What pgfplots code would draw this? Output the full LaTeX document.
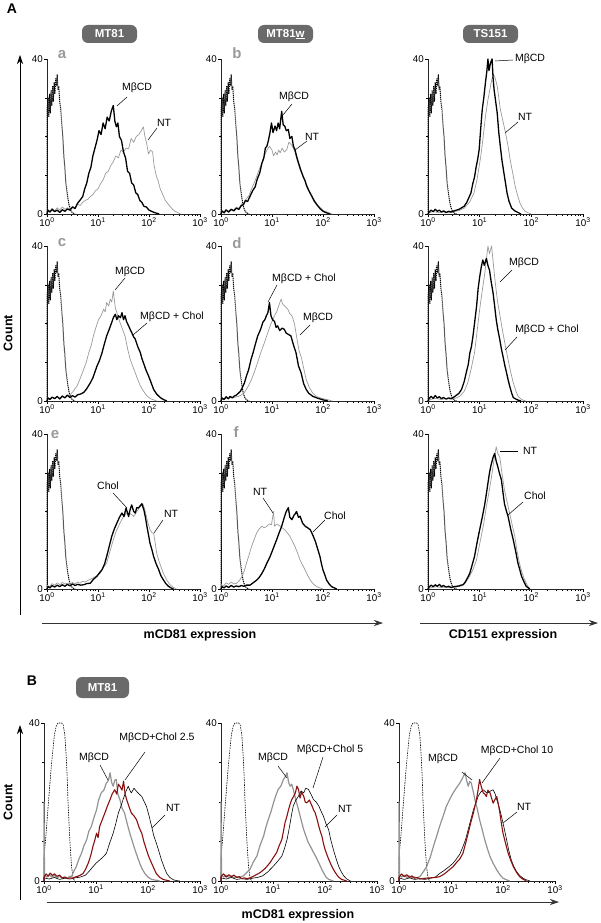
\documentclass[border=0pt]{standalone}
\usepackage{fontspec}
\setmainfont{Liberation Sans}
\usepackage{pgfplots}
\usepackage{pgfplotstable}
\pgfplotsset{compat=1.18}
\usetikzlibrary{arrows.meta}
\definecolor{lgray}{HTML}{9A9A9A}
\definecolor{mgray}{HTML}{939393}
\definecolor{boxgray}{HTML}{6A6A6A}
\definecolor{dred}{HTML}{8A1010}

\pgfplotstableread[row sep=\\]{x y\\ 0 0\\ 0 27\\ 0.02 30\\ 0.035 25\\ 0.05 31\\ 0.065 26\\ 0.08 32\\ 0.095 28\\ 0.11 33\\ 0.125 29\\ 0.14 34\\ 0.155 31\\ 0.17 35\\ 0.185 33\\ 0.2 36\\ 0.215 32\\ 0.23 33\\ 0.25 29\\ 0.27 27\\ 0.29 23\\ 0.31 20\\ 0.33 15\\ 0.35 12\\ 0.37 8\\ 0.39 6\\ 0.41 4\\ 0.43 2.5\\ 0.45 1.5\\ 0.47 0.8\\ 0.5 0.3\\ 0.55 0\\}\dotA
\pgfplotstableread[row sep=\\]{x y\\ 0 0\\ 0 6\\ 0.04 12\\ 0.08 19\\ 0.11 24\\ 0.14 29\\ 0.17 33\\ 0.2 37\\ 0.24 39.5\\ 0.27 40\\ 0.3 40\\ 0.34 40\\ 0.37 39.5\\ 0.4 37\\ 0.42 33\\ 0.43 30.8\\ 0.45 25\\ 0.46 20.6\\ 0.48 15\\ 0.49 12\\ 0.51 7.5\\ 0.53 3.6\\ 0.56 0.7\\ 0.59 0\\}\dotB

\pgfplotsset{
  hist/.style={scale only axis, anchor=south west, xmin=0, xmax=3, ymin=0, ymax=40,
    axis lines*=left, axis line style={black!85, line width=0.6pt},
    xtick={0,1,2,3},
    xticklabels={10\textsuperscript{0},10\textsuperscript{1},10\textsuperscript{2},10\textsuperscript{3}},
    ytick={0,40}, yticklabels={0,40}, minor ytick={10,20,30},
    minor xtick={0.301,0.477,0.602,0.699,0.778,0.845,0.903,0.954,1.301,1.477,1.602,1.699,1.778,1.845,1.903,1.954,2.301,2.477,2.602,2.699,2.778,2.845,2.903,2.954},
    tick align=outside, major tick length=3pt, minor tick length=1.8pt,
    tick style={black, line width=0.45pt},
    tick label style={font=\fontsize{9.8}{10}\selectfont, inner sep=1pt},
    clip=false},
  histA/.style={hist, width=153pt, height=155pt},
  histT/.style={hist, width=155pt, height=155pt},
  histB/.style={hist, width=156pt, height=158pt},
  dotted A/.style={black, line width=1.0pt, dash pattern=on 1.2pt off 0.8pt},
  dotted B/.style={black, line width=0.6pt, dash pattern=on 1.5pt off 1pt},
  blk/.style={black, line width=1.3pt, line join=round},
  gry/.style={lgray, line width=0.7pt, line join=round},
  gryB/.style={mgray, line width=1.2pt, line join=round},
  redB/.style={dred, line width=1.1pt, line join=round},
  blkB/.style={black, line width=0.6pt, line join=round},
}

\begin{document}
\begin{tikzpicture}
\path[use as bounding box] (0,0) rectangle (600pt,-923pt);

% ---------- Row 1 ----------
\begin{axis}[histA, at={(47pt,-214pt)}]
\addplot[dotted A] table {\dotA};
\addplot[gry] coordinates {(0,0) (0,1) (0.05,0.5) (0.1,1.5) (0.15,0.8) (0.2,1.6) (0.25,1) (0.3,1.8) (0.35,1.2) (0.4,1.6) (0.45,1.3) (0.5,2) (0.55,1.6) (0.6,2.5) (0.65,2.2) (0.7,3) (0.75,3.5) (0.8,3.8) (0.85,4.5) (0.9,5) (0.95,6) (1.0,6.5) (1.05,7.8) (1.1,8.8) (1.15,10.5) (1.2,11) (1.25,12.5) (1.3,13.5) (1.35,15) (1.4,14.5) (1.45,16.5) (1.5,16) (1.55,17) (1.6,16.8) (1.65,19.5) (1.7,18.5) (1.75,20) (1.8,20.5) (1.85,21.5) (1.89,22.5) (1.92,20) (1.95,18.5) (1.99,15.5) (2.03,16.5) (2.07,16) (2.1,12.5) (2.14,10) (2.18,8.5) (2.22,6.5) (2.27,5) (2.32,3.5) (2.38,2.5) (2.44,1.5) (2.5,0.8) (2.56,0.4) (2.62,0)};
\addplot[blk] coordinates {(0,0) (0.02,1) (0.06,0.5) (0.1,1.2) (0.15,0.6) (0.2,1) (0.25,0.4) (0.3,1.1) (0.35,0.7) (0.4,1.3) (0.45,1) (0.5,1.8) (0.55,1.4) (0.6,2.8) (0.65,3.6) (0.7,4.5) (0.74,6.5) (0.78,8) (0.82,10.5) (0.86,12) (0.9,15) (0.94,17) (0.98,19) (1.02,21.5) (1.06,20.5) (1.1,23.5) (1.14,22) (1.18,25) (1.22,24) (1.26,26.5) (1.3,28) (1.33,24) (1.36,22.5) (1.39,23.5) (1.42,20) (1.46,19) (1.5,16) (1.54,14.5) (1.58,11) (1.62,10.5) (1.66,8) (1.7,7.5) (1.74,5.5) (1.78,5) (1.82,3.5) (1.86,3) (1.9,2) (1.95,1.8) (2.0,1) (2.05,0.7) (2.1,0.4) (2.15,0.2) (2.2,0)};
\end{axis}

\begin{axis}[histA, at={(221pt,-214pt)}]
\addplot[dotted A] table {\dotA};
\addplot[gry] coordinates {(0,0) (0,0.8) (0.05,0.5) (0.1,1.2) (0.15,0.7) (0.2,1.3) (0.25,1) (0.3,1.8) (0.35,1.5) (0.4,2.5) (0.45,3) (0.5,4) (0.55,4.8) (0.6,6.5) (0.65,8) (0.7,9.7) (0.75,11.5) (0.8,13.2) (0.85,15) (0.9,16.5) (0.95,17.5) (1.0,16.5) (1.03,15) (1.07,16) (1.1,15.2) (1.13,16.5) (1.16,15.8) (1.2,17) (1.24,16) (1.29,16.6) (1.33,18.5) (1.37,18) (1.4,17.5) (1.45,16) (1.5,13.5) (1.55,11.5) (1.6,10) (1.65,8.5) (1.7,7) (1.75,5.5) (1.8,4.2) (1.85,3.2) (1.9,2.2) (1.96,1.5) (2.02,0.8) (2.1,0.4) (2.18,0)};
\addplot[blk] coordinates {(0,0) (0.02,0.8) (0.06,0.3) (0.1,1) (0.15,0.5) (0.2,1.2) (0.25,0.8) (0.3,1.5) (0.35,1.2) (0.4,2.2) (0.44,2.4) (0.48,3.5) (0.52,3.2) (0.57,4.6) (0.62,6) (0.67,7) (0.71,9) (0.76,10.6) (0.8,13) (0.84,14.5) (0.87,17) (0.9,17.5) (0.93,19) (0.96,21) (0.99,23.5) (1.02,21) (1.06,22.7) (1.09,21.5) (1.12,23.5) (1.15,22) (1.19,26.5) (1.22,23) (1.25,22.7) (1.28,21.5) (1.32,21.8) (1.35,19.5) (1.39,20) (1.42,17.5) (1.45,16.6) (1.49,14.5) (1.52,13.2) (1.56,11.5) (1.61,9.7) (1.65,8.5) (1.68,7.2) (1.73,5.8) (1.78,4.6) (1.83,3.3) (1.88,2.4) (1.94,1.4) (2.0,0.7) (2.07,0.3) (2.14,0)};
\end{axis}

\begin{axis}[histT, at={(428pt,-214pt)}]
\addplot[dotted A] table {\dotA};
\addplot[gry] coordinates {(0,0) (0.02,0.3) (0.1,0.6) (0.2,0.4) (0.3,0.5) (0.4,0.3) (0.5,0.6) (0.6,0.9) (0.7,1.5) (0.8,3) (0.89,5.4) (0.95,9) (1.02,14.8) (1.06,19) (1.11,25) (1.16,29.5) (1.21,33) (1.24,35) (1.27,36) (1.3,35) (1.34,33) (1.37,30) (1.4,27) (1.45,24) (1.5,21) (1.55,17.5) (1.59,14) (1.64,10.5) (1.69,7) (1.74,4.5) (1.78,2.8) (1.83,1.5) (1.88,0.7) (1.94,0.3) (2.0,0)};
\addplot[blk] coordinates {(0,0) (0.02,0.5) (0.06,1) (0.1,0.6) (0.14,1.2) (0.18,0.7) (0.22,1) (0.26,0.5) (0.3,0.8) (0.35,0.4) (0.4,0.7) (0.45,0.5) (0.5,0.8) (0.55,1) (0.6,1.2) (0.65,1.6) (0.7,2) (0.75,3) (0.8,4.5) (0.83,5.4) (0.87,8) (0.9,9.5) (0.93,12) (0.96,14) (0.99,16.6) (1.02,22) (1.05,27) (1.08,30) (1.11,33.7) (1.14,37) (1.16,40) (1.18,37) (1.21,39) (1.24,40) (1.26,35) (1.28,32) (1.31,29) (1.34,26) (1.37,21) (1.4,17.4) (1.43,14) (1.47,10.5) (1.5,8) (1.53,5.4) (1.57,3.2) (1.62,1.5) (1.68,0.8) (1.74,0.4) (1.8,0)};
\end{axis}

% ---------- Row 2 ----------
\begin{axis}[histA, at={(47pt,-401pt)}]
\addplot[dotted A] table {\dotA};
\addplot[gry] coordinates {(0,0) (0,0.8) (0.05,0.4) (0.1,1) (0.15,0.6) (0.2,1.1) (0.25,0.7) (0.3,1.2) (0.35,0.9) (0.4,1.4) (0.46,1.7) (0.52,2.6) (0.59,3.9) (0.65,5.8) (0.72,8.2) (0.77,10) (0.82,12.5) (0.87,14.5) (0.91,16.8) (0.96,19) (1.01,21) (1.06,22) (1.11,23.7) (1.14,23) (1.17,25.4) (1.21,24.5) (1.24,26.3) (1.27,25.5) (1.3,28.4) (1.34,24) (1.37,22.8) (1.4,21.5) (1.43,20.3) (1.48,18.5) (1.53,16.8) (1.58,13.5) (1.63,10.8) (1.68,9) (1.73,7.3) (1.78,5.5) (1.83,3.9) (1.9,2.4) (1.96,1.3) (2.03,0.6) (2.09,0.3) (2.15,0)};
\addplot[blk] coordinates {(0,0) (0.02,0.8) (0.06,0.4) (0.1,1) (0.15,0.6) (0.2,1.2) (0.25,0.5) (0.3,1.3) (0.35,0.8) (0.4,1.5) (0.45,0.9) (0.5,1.4) (0.55,1) (0.6,1.6) (0.66,1.8) (0.72,2.2) (0.78,3.2) (0.85,4.7) (0.9,6) (0.94,7.5) (0.98,9) (1.03,10.5) (1.08,12.5) (1.12,14.5) (1.17,16.8) (1.22,18.5) (1.27,20.3) (1.3,21.5) (1.34,22.4) (1.37,21) (1.4,22) (1.44,21.5) (1.47,22.8) (1.5,21) (1.53,22) (1.56,20.5) (1.6,19.4) (1.63,18.5) (1.66,17.7) (1.7,16.5) (1.73,16) (1.78,14) (1.83,12.5) (1.86,11) (1.89,9.9) (1.94,8) (1.99,6.5) (2.04,4.8) (2.09,3) (2.15,1.8) (2.22,0.9) (2.28,0.4) (2.35,0)};
\end{axis}

\begin{axis}[histA, at={(221pt,-401pt)}]
\addplot[dotted A] table {\dotA};
\addplot[gry] coordinates {(0,0) (0,0.6) (0.05,0.3) (0.1,0.8) (0.15,0.5) (0.2,1) (0.25,0.8) (0.3,1.1) (0.35,1.2) (0.4,1.6) (0.46,2.2) (0.52,3.5) (0.58,5) (0.65,7.3) (0.72,10) (0.78,12.5) (0.85,15) (0.92,17.7) (0.98,20) (1.05,22) (1.09,23) (1.13,24.5) (1.18,26.3) (1.21,25) (1.25,24.5) (1.31,23.7) (1.35,22.5) (1.39,22) (1.44,20) (1.49,16) (1.53,13) (1.58,11) (1.62,8.5) (1.67,5.6) (1.73,3.5) (1.79,2.2) (1.86,1.3) (1.92,0.9) (2.0,0.6) (2.1,0.3) (2.18,0)};
\addplot[blk] coordinates {(0,0) (0.02,0.8) (0.06,0.4) (0.1,1.1) (0.14,0.6) (0.18,1.2) (0.22,0.8) (0.26,1.3) (0.3,1.5) (0.34,2) (0.38,2.5) (0.42,3.5) (0.46,4.7) (0.5,6.5) (0.54,8) (0.59,10.8) (0.63,12.5) (0.67,14.5) (0.72,16.8) (0.76,18) (0.79,19) (0.82,20.3) (0.86,21) (0.89,22) (0.92,22.8) (0.95,25.4) (0.98,22) (1.01,21) (1.05,20.5) (1.08,19) (1.11,19.4) (1.15,18.2) (1.2,18.8) (1.24,18.5) (1.28,17.5) (1.32,17.2) (1.37,16.8) (1.42,14.5) (1.47,12.5) (1.52,9) (1.57,7.3) (1.62,4.5) (1.67,3) (1.72,2) (1.8,1.2) (1.9,0.7) (2.0,0.3) (2.1,0)};
\end{axis}

\begin{axis}[histT, at={(428pt,-401pt)}]
\addplot[dotted A] table {\dotA};
\addplot[gry] coordinates {(0,0) (0.05,0.4) (0.15,0.7) (0.25,0.4) (0.35,0.6) (0.45,0.5) (0.55,0.8) (0.62,1.3) (0.7,2.5) (0.77,4.7) (0.83,8) (0.9,12.4) (0.95,18) (1.0,23.6) (1.05,28.5) (1.1,33) (1.13,36.5) (1.16,40) (1.19,38) (1.23,40) (1.26,36) (1.29,32) (1.32,28.5) (1.35,25.3) (1.4,21.5) (1.45,17.6) (1.5,14) (1.55,10.7) (1.6,7.5) (1.65,4.7) (1.7,2.6) (1.74,1.3) (1.79,0.6) (1.84,0.2) (1.9,0)};
\addplot[blk] coordinates {(0,0) (0.02,0.6) (0.06,1.2) (0.1,0.7) (0.14,1.4) (0.18,0.8) (0.22,1.1) (0.26,0.6) (0.3,0.9) (0.35,0.5) (0.4,0.8) (0.45,0.6) (0.5,1) (0.55,1.5) (0.6,2) (0.65,3) (0.7,5) (0.74,7.3) (0.78,9.5) (0.81,12.4) (0.84,14) (0.87,16.7) (0.9,20) (0.94,24.4) (0.97,29) (1.0,32) (1.03,34.5) (1.06,36.4) (1.09,35) (1.13,36.8) (1.16,35) (1.19,33.8) (1.22,31) (1.26,27.8) (1.29,24.5) (1.32,21) (1.35,18.5) (1.39,15.8) (1.42,13.5) (1.45,11.6) (1.49,9) (1.52,7.3) (1.55,5.5) (1.58,3.9) (1.62,2) (1.65,0.9) (1.7,0.5) (1.75,0.2) (1.8,0)};
\end{axis}

% ---------- Row 3 ----------
\begin{axis}[histA, at={(47pt,-589pt)}]
\addplot[dotted A] table {\dotA};
\addplot[gry] coordinates {(0,0) (0,1) (0.05,0.6) (0.1,1.4) (0.15,1) (0.2,1.6) (0.25,1.1) (0.3,1.7) (0.35,1.3) (0.4,1.5) (0.45,1.2) (0.5,1.7) (0.55,1.3) (0.6,1.8) (0.65,1.5) (0.7,2) (0.75,1.8) (0.8,2.2) (0.85,2.5) (0.9,2.8) (0.96,3.3) (1.04,4) (1.1,5.5) (1.17,6.7) (1.23,9.5) (1.3,12.7) (1.36,15) (1.43,17) (1.49,18.5) (1.56,19.6) (1.63,19.5) (1.7,18.7) (1.76,20) (1.83,21.3) (1.88,22) (1.92,20.4) (1.97,17.5) (2.02,15.3) (2.06,14.5) (2.09,14.4) (2.12,12) (2.15,9.3) (2.2,7) (2.25,5.2) (2.28,4.1) (2.34,2.5) (2.41,1.1) (2.47,0.5) (2.54,0)};
\addplot[blk] coordinates {(0,0) (0.02,0.6) (0.06,0.3) (0.1,0.9) (0.15,0.5) (0.2,1) (0.25,0.6) (0.3,1.1) (0.35,0.7) (0.4,1.2) (0.45,0.8) (0.5,1.3) (0.55,0.9) (0.6,1.2) (0.66,1) (0.72,1.1) (0.78,1.4) (0.85,1.5) (0.91,2.5) (0.98,3.3) (1.03,4.2) (1.08,5) (1.13,6.5) (1.17,8.4) (1.22,11) (1.27,13.6) (1.32,15.5) (1.37,17) (1.42,18.5) (1.47,19.6) (1.51,18.7) (1.55,20.9) (1.6,18.7) (1.63,20.5) (1.66,21.7) (1.7,20) (1.73,19.6) (1.76,21) (1.79,20.9) (1.83,21.5) (1.86,22) (1.9,20.4) (1.93,18.5) (1.96,16.1) (1.99,14) (2.02,11.8) (2.06,10) (2.09,8.4) (2.14,6.5) (2.19,5) (2.23,3.5) (2.28,2.4) (2.33,1.4) (2.38,0.7) (2.43,0.3) (2.48,0)};
\end{axis}

\begin{axis}[histA, at={(221pt,-589pt)}]
\addplot[dotted A] table {\dotA};
\addplot[gry] coordinates {(0,0) (0,1.2) (0.05,0.8) (0.1,1.6) (0.15,1.2) (0.2,1.8) (0.25,1.3) (0.31,1.5) (0.36,2.2) (0.41,3.2) (0.46,4.8) (0.5,6.7) (0.55,8.8) (0.6,11) (0.65,12.8) (0.7,14.5) (0.75,15.5) (0.8,16.2) (0.85,15.8) (0.9,16.2) (0.95,16.8) (0.99,16.6) (1.03,20) (1.05,16.2) (1.1,16.8) (1.16,16.2) (1.2,15.8) (1.25,15.3) (1.3,14.5) (1.35,13.6) (1.4,12.3) (1.45,11) (1.5,9.3) (1.55,7.5) (1.6,6.2) (1.65,4.9) (1.7,3.5) (1.75,2.3) (1.81,1.3) (1.88,0.6) (1.94,0.3) (2.0,0)};
\addplot[blk] coordinates {(0,0) (0.02,0.6) (0.06,0.3) (0.1,0.8) (0.15,0.4) (0.2,0.9) (0.25,0.5) (0.3,0.8) (0.35,0.6) (0.4,0.9) (0.45,0.7) (0.5,1) (0.57,1) (0.63,1.6) (0.7,2.3) (0.75,3) (0.8,4) (0.85,5.2) (0.9,6.7) (0.95,8) (0.99,9.3) (1.04,11) (1.09,12.7) (1.14,14.5) (1.19,16.2) (1.23,18) (1.27,19.7) (1.3,20.5) (1.32,21) (1.35,18.5) (1.39,17.9) (1.43,19) (1.46,19.5) (1.48,20) (1.52,18.5) (1.55,18.8) (1.6,17) (1.65,16.2) (1.7,15.8) (1.75,15.3) (1.78,14.5) (1.81,13.6) (1.85,12.3) (1.88,11) (1.91,9.7) (1.94,8.4) (1.97,6.5) (2.0,4.9) (2.04,3.5) (2.07,2.3) (2.12,1.3) (2.17,0.6) (2.22,0.3) (2.27,0)};
\end{axis}

\begin{axis}[histT, at={(428pt,-589pt)}]
\addplot[dotted A] table {\dotA};
\addplot[gry] coordinates {(0,0) (0.05,0.3) (0.15,0.6) (0.25,0.4) (0.35,0.5) (0.45,0.3) (0.55,0.5) (0.65,0.8) (0.72,1.5) (0.8,3.2) (0.87,5) (0.94,7.6) (1.03,13.6) (1.08,17) (1.13,21.3) (1.18,25) (1.23,29) (1.28,33.5) (1.32,36.7) (1.35,35) (1.39,34) (1.43,30) (1.48,25.6) (1.53,22.5) (1.58,19.6) (1.63,16.5) (1.68,13.6) (1.72,10) (1.77,6.7) (1.82,4.2) (1.87,2.4) (1.92,1) (1.97,0)};
\addplot[blk] coordinates {(0,0) (0.02,0.5) (0.06,1) (0.1,0.6) (0.14,1.1) (0.18,0.7) (0.22,1.2) (0.26,0.6) (0.3,0.9) (0.35,0.5) (0.4,0.7) (0.45,0.4) (0.5,0.6) (0.55,0.7) (0.6,0.8) (0.64,1) (0.68,1.1) (0.72,1.8) (0.77,3) (0.81,4.1) (0.85,6) (0.9,8.4) (0.95,12) (1.0,15.3) (1.05,18.5) (1.1,22) (1.14,25.5) (1.19,30) (1.22,32) (1.26,34) (1.29,35) (1.32,33) (1.35,31.6) (1.38,30) (1.42,28.2) (1.45,25) (1.48,22) (1.51,20.5) (1.55,18.7) (1.6,15.5) (1.65,12.7) (1.7,9.5) (1.74,6.7) (1.78,4.8) (1.81,3.3) (1.86,1.8) (1.9,0.7) (1.94,0.3) (1.97,0)};
\end{axis}

% ---------- Section B ----------
\begin{axis}[histB, at={(44pt,-881pt)}]
\addplot[dotted B] table {\dotB};
\addplot[gryB] coordinates {(0,0) (0,20) (0.01,1.5) (0.05,1) (0.1,1.6) (0.15,1) (0.2,1.4) (0.25,0.8) (0.3,1.2) (0.35,0.7) (0.4,1) (0.45,0.8) (0.5,1.2) (0.53,1.1) (0.57,2.4) (0.62,3.6) (0.67,5.5) (0.72,7) (0.77,9) (0.82,10.4) (0.86,12.5) (0.91,13.8) (0.96,16) (1.01,18) (1.05,20.5) (1.1,22.3) (1.15,23) (1.2,24.8) (1.24,25.5) (1.27,27.4) (1.3,25) (1.33,24) (1.36,25.5) (1.39,25.7) (1.42,22) (1.46,20.6) (1.5,18.5) (1.55,17.2) (1.6,14.5) (1.65,12.1) (1.7,10) (1.75,7.9) (1.8,6) (1.84,4.5) (1.89,3) (1.94,1.9) (2.0,1) (2.07,0.4) (2.15,0.2) (2.23,0)};
\addplot[blkB] coordinates {(0,0) (0,0.8) (0.1,0.5) (0.2,0.9) (0.3,0.4) (0.4,0.7) (0.5,0.5) (0.6,0.8) (0.7,1) (0.8,1.5) (0.87,2.5) (0.94,3.6) (1.0,4.5) (1.07,5.3) (1.13,6) (1.2,7) (1.26,9.5) (1.33,12.1) (1.38,14.5) (1.43,17.2) (1.48,19) (1.52,20.6) (1.57,22.5) (1.62,24) (1.65,23) (1.68,22.3) (1.73,23.5) (1.78,22.7) (1.83,22) (1.88,21.4) (1.93,20) (1.97,18.9) (2.02,16.5) (2.07,13.8) (2.11,11.5) (2.16,9.6) (2.21,7.5) (2.26,5.3) (2.31,3.5) (2.36,1.9) (2.42,0.9) (2.49,0.3) (2.55,0.1) (2.61,0)};
\addplot[redB] coordinates {(0,0) (0,1) (0.04,1.8) (0.08,1.2) (0.12,2) (0.16,1.4) (0.2,1.8) (0.25,1.2) (0.3,1.5) (0.35,0.8) (0.4,1) (0.45,0.6) (0.5,0.8) (0.55,0.7) (0.6,1) (0.65,1.2) (0.7,1.5) (0.75,1.9) (0.8,3) (0.85,4.5) (0.9,6.5) (0.94,8.7) (0.98,10.5) (1.01,12.1) (1.04,11) (1.07,13.8) (1.12,15.5) (1.17,17.2) (1.22,19) (1.27,20.6) (1.31,22) (1.36,23.1) (1.4,22) (1.43,24.5) (1.46,24) (1.5,23) (1.53,25.3) (1.56,22) (1.59,20.6) (1.63,19) (1.68,17.2) (1.73,16.5) (1.78,15.5) (1.83,13.5) (1.88,12.1) (1.92,10) (1.97,7.9) (2.02,6) (2.07,4.5) (2.12,3) (2.16,1.9) (2.22,1) (2.29,0.4) (2.35,0.2) (2.42,0)};
\end{axis}

\begin{axis}[histB, at={(221pt,-881pt)}]
\addplot[dotted B] table {\dotB};
\addplot[gryB] coordinates {(0,0) (0,20) (0.01,1.5) (0.05,1) (0.1,1.5) (0.15,0.9) (0.2,1.3) (0.25,0.8) (0.3,1.1) (0.35,0.9) (0.4,1.2) (0.43,1.3) (0.5,2.2) (0.56,3) (0.62,4.8) (0.69,6.3) (0.75,9) (0.82,11.4) (0.86,13.5) (0.91,15.6) (0.96,17.5) (1.01,19.8) (1.05,21.5) (1.1,23.2) (1.15,24) (1.2,25.7) (1.24,26.5) (1.27,27.4) (1.3,25) (1.33,24) (1.36,24.5) (1.39,23.2) (1.44,20.5) (1.49,18.1) (1.54,15.5) (1.59,13) (1.63,11.5) (1.68,9.7) (1.73,8.5) (1.78,7.2) (1.83,6) (1.88,4.6) (1.93,3.2) (1.97,2.1) (2.02,1) (2.07,0.4) (2.12,0.2) (2.16,0)};
\addplot[blkB] coordinates {(0,0) (0,0.8) (0.1,0.5) (0.2,0.9) (0.3,0.4) (0.4,0.6) (0.5,0.4) (0.6,0.7) (0.7,0.9) (0.8,1.3) (0.9,2.3) (1.01,3.8) (1.09,5) (1.17,6.3) (1.22,8.2) (1.27,10.5) (1.3,12.5) (1.33,14.7) (1.36,17) (1.39,19) (1.44,20.5) (1.49,21.5) (1.54,22.8) (1.59,22.3) (1.63,23.5) (1.68,23.2) (1.73,22) (1.78,20.6) (1.83,20) (1.88,19) (1.92,17.8) (1.97,16.4) (2.02,14.5) (2.07,13) (2.11,10.5) (2.16,8) (2.21,5.8) (2.26,3.8) (2.31,2.4) (2.36,1.3) (2.42,0.5) (2.49,0)};
\addplot[redB] coordinates {(0,0) (0,1.2) (0.05,1.8) (0.1,1) (0.15,1.6) (0.2,1.1) (0.25,1.5) (0.3,0.9) (0.35,1.1) (0.4,0.6) (0.45,0.8) (0.5,0.6) (0.56,0.8) (0.65,1.4) (0.75,2.1) (0.85,3.2) (0.94,4.6) (1.0,5.8) (1.07,7.2) (1.12,9) (1.17,10.5) (1.2,12.5) (1.23,14.7) (1.27,16.5) (1.3,18.1) (1.33,19.5) (1.36,20.6) (1.4,21.5) (1.43,22.3) (1.46,24) (1.49,23.2) (1.52,21) (1.55,22.5) (1.59,21.5) (1.62,20) (1.65,19.8) (1.7,20.5) (1.75,19) (1.78,18) (1.81,17.3) (1.85,15.5) (1.88,13.9) (1.91,12.5) (1.94,11.4) (1.97,9.5) (2.0,8) (2.05,6.2) (2.1,4.6) (2.15,3.2) (2.2,2.1) (2.26,1) (2.32,0.4) (2.37,0.2) (2.42,0)};
\end{axis}

\begin{axis}[histB, at={(399pt,-881pt)}]
\addplot[dotted B] table {\dotB};
\addplot[gryB] coordinates {(0,0) (0,20) (0.01,1.5) (0.05,1) (0.1,1.5) (0.15,0.9) (0.2,1.3) (0.25,0.8) (0.3,1) (0.35,0.8) (0.4,1.1) (0.46,2.2) (0.53,3.6) (0.6,6) (0.66,8.7) (0.72,11.2) (0.78,13.8) (0.85,16.5) (0.91,18.9) (0.98,20.8) (1.04,22.3) (1.1,23.5) (1.17,24.8) (1.22,26) (1.27,27.4) (1.3,25.5) (1.33,24) (1.36,25.2) (1.39,24.8) (1.43,22.5) (1.46,20.6) (1.5,18.5) (1.55,15.5) (1.6,13) (1.65,10.4) (1.7,8.2) (1.75,6.2) (1.81,4.5) (1.88,2.8) (1.94,1.6) (2.0,0.7) (2.07,0.3) (2.13,0)};
\addplot[blkB] coordinates {(0,0) (0,0.8) (0.1,0.4) (0.2,0.8) (0.3,0.4) (0.4,0.6) (0.5,0.4) (0.6,0.7) (0.7,1) (0.78,1.9) (0.85,2.5) (0.92,3.2) (0.98,3.8) (1.04,4.5) (1.1,5.5) (1.17,6.8) (1.23,8.7) (1.28,10.5) (1.33,13) (1.38,15.5) (1.43,18) (1.48,19.8) (1.52,21.4) (1.57,22.5) (1.62,23.1) (1.67,22.5) (1.71,22.3) (1.76,22.8) (1.81,23.1) (1.85,22) (1.88,20.6) (1.93,18.5) (1.97,16.4) (2.02,13.5) (2.07,10.4) (2.11,7.8) (2.16,5.3) (2.21,3.6) (2.26,2.4) (2.32,1.4) (2.39,0.7) (2.45,0.3) (2.52,0)};
\addplot[redB] coordinates {(0,0) (0,1) (0.05,1.8) (0.1,1.1) (0.15,1.6) (0.2,0.9) (0.25,1.3) (0.3,0.7) (0.35,0.9) (0.4,0.5) (0.5,0.7) (0.6,0.8) (0.7,0.9) (0.78,1.1) (0.85,1.6) (0.92,2.3) (0.98,3) (1.04,3.6) (1.1,4.6) (1.17,5.6) (1.23,7) (1.28,9.5) (1.33,12.1) (1.38,14.8) (1.43,17.2) (1.46,19) (1.49,20.6) (1.52,23) (1.55,25.7) (1.58,24) (1.62,22.3) (1.65,22) (1.68,21.4) (1.71,23) (1.75,22.3) (1.78,21) (1.81,19.7) (1.84,20.5) (1.88,21.4) (1.91,19.5) (1.94,17.2) (1.97,14.5) (2.0,12.1) (2.05,9.5) (2.1,7) (2.15,5.2) (2.2,3.6) (2.26,2.2) (2.32,1.1) (2.38,0.5) (2.45,0)};
\end{axis}

% ---------- Decorations in pixel coordinates ----------
\begin{scope}[x=1pt, y=-1pt,
  lab/.style={font=\fontsize{10.5}{11}\selectfont, inner sep=0pt},
  lead/.style={black, line width=0.5pt},
  pl/.style={font=\fontsize{15}{15}\bfseries\selectfont, text=lgray, inner sep=0pt},
  bx/.style={fill=boxgray, rounded corners=6pt, text=white, font=\fontsize{11.5}{12}\bfseries\selectfont, minimum width=55pt, minimum height=18pt, inner sep=0pt},
  big/.style={font=\fontsize{14}{14}\bfseries\selectfont, inner sep=0pt},
  axlab/.style={font=\fontsize{12.5}{13}\bfseries\selectfont, inner sep=0pt},
  arr/.style={line width=0.7pt, -{Stealth[length=9pt, width=6pt]}}]
% section labels
\node[big] at (12,9) {A};
\node[big] at (32,681) {B};
% boxes
\node[bx] at (109.5,34) {MT81};
\node[bx] at (285.5,34) {MT81\underline{w}};
\node[bx] at (490.5,34) {TS151};
\node[bx, minimum width=53pt, minimum height=21pt] at (102.5,687.5) {MT81};
% panel letters
\node[pl] at (62,55) {a};
\node[pl] at (237,53) {b};
\node[pl] at (62,243) {c};
\node[pl] at (237,243) {d};
\node[pl] at (55,435) {e};
\node[pl] at (236,432) {f};
% axes arrows A
\draw[arr, black] (20,615) -- (20,55);
\node[axlab, rotate=90] at (8,333) {Count};
\draw[arr, black!80] (42,623) -- (383,623);
\node[axlab] at (200,635) {mCD81 expression};
\draw[arr, black!80] (420,623) -- (598,623);
\node[axlab] at (503,635) {CD151 expression};
% axes arrows B
\draw[arr, black] (20,900) -- (20,725);
\node[axlab, rotate=90] at (8,802) {Count};
\draw[arr, black!80] (47,902) -- (559,902);
\node[axlab] at (298,915) {mCD81 expression};
% annotations row 1
\node[lab] at (137,88) {MβCD}; \draw[lead] (127,97) -- (117,106);
\node[lab] at (164,123) {NT}; \draw[lead] (157,128) -- (148,140);
\node[lab] at (294,97) {MβCD}; \draw[lead] (292,104) -- (283,115);
\node[lab] at (312,137) {NT}; \draw[lead] (307,141) -- (295,150);
\node[lab] at (530,59) {MβCD}; \draw[lead] (513,60) -- (495,61);
\node[lab] at (525,117) {NT}; \draw[lead] (518,122) -- (505,133);
% row 2
\node[lab] at (130,272) {MβCD}; \draw[lead] (125,278) -- (115,290);
\node[lab] at (172,317) {MβCD + Chol}; \draw[lead] (147,323) -- (133,335);
\node[lab] at (304,279) {MβCD + Chol}; \draw[lead] (277,285) -- (268,302);
\node[lab] at (318,318) {MβCD}; \draw[lead] (310,325) -- (300,335);
\node[lab] at (524,263) {MβCD}; \draw[lead] (512,270) -- (500,282);
\node[lab] at (547,330) {MβCD + Chol}; \draw[lead] (517,337) -- (505,350);
% row 3
\node[lab] at (108,486) {Chol}; \draw[lead] (113,493) -- (127,508);
\node[lab] at (171,514) {NT}; \draw[lead] (163,520) -- (154,533);
\node[lab] at (260,492) {NT}; \draw[lead] (263,498) -- (273,513);
\node[lab] at (335,516) {Chol}; \draw[lead] (325,520) -- (313,532);
\node[lab] at (530,451) {NT}; \draw[lead] (518,451) -- (500,451);
\node[lab] at (535,496) {Chol}; \draw[lead] (523,502) -- (508,515);
% section B
\node[lab] at (94,758) {MβCD}; \draw[lead] (100,765) -- (108,780);
\node[lab] at (157,738) {MβCD+Chol 2.5}; \draw[lead] (145,752) -- (125,780);
\node[lab] at (173,808) {NT}; \draw[lead] (165,815) -- (152,828);
\node[lab] at (273,758) {MβCD}; \draw[lead] (278,766) -- (287,778);
\node[lab] at (330,750) {MβCD+Chol 5}; \draw[lead] (323,757) -- (313,788);
\node[lab] at (345,809) {NT}; \draw[lead] (337,815) -- (325,827);
\node[lab] at (443,759) {MβCD}; \draw[lead] (462,772) -- (472,780);
\node[lab] at (517,751) {MβCD+Chol 10}; \draw[lead] (500,758) -- (482,783);
\node[lab] at (524,807) {NT}; \draw[lead] (517,812) -- (503,823);
\end{scope}
\end{tikzpicture}
\end{document}
